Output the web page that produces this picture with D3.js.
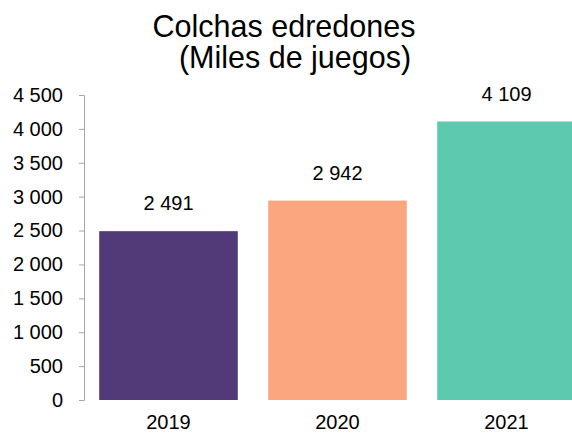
<!DOCTYPE html>
<html><head><meta charset="utf-8">
<script src="https://cdn.jsdelivr.net/npm/d3@7"></script>
<style>body{margin:0;background:#fff}svg{display:block}text{font-family:"Liberation Sans",Arial,sans-serif;fill:#000}</style>
</head><body><svg id="c" width="572" height="434"></svg>
<script>
const categories = ["2019", "2020", "2021"];
const values = [2491, 2942, 4109];
const colors = ["#513A77", "#FBA67E", "#5DC9AF"];
const tickValues = [0, 500, 1000, 1500, 2000, 2500, 3000, 3500, 4000, 4500];
const titleLines = ["Colchas edredones", "(Miles de juegos)"];

const fmt = v => d3.format(",")(v).replace(/,/g, " ");
const svg = d3.select("#c");
const x = d3.scaleBand().domain(categories).range([84, 591]).paddingInner(0.18).paddingOuter(0.09);
const y = d3.scaleLinear().domain([0, 4500]).range([400, 95]);

svg.append("text").attr("x", 284).attr("y", 37).attr("text-anchor", "middle").attr("font-size", 30.5).text(titleLines[0]);
svg.append("text").attr("x", 295).attr("y", 68).attr("text-anchor", "middle").attr("font-size", 30.5).text(titleLines[1]);

const ya = svg.append("g").attr("transform", "translate(84,0)")
  .call(d3.axisLeft(y).tickValues(tickValues).tickFormat(fmt).tickSize(5).tickPadding(16));
ya.selectAll("path,line").attr("stroke", "#a6a6a6");
ya.selectAll("text").attr("font-size", 20).attr("font-family", "Liberation Sans, Arial, sans-serif");

svg.selectAll("rect.bar").data(values).enter().append("rect")
  .attr("x", (d, i) => x(categories[i])).attr("width", x.bandwidth())
  .attr("y", d => y(d)).attr("height", d => y(0) - y(d))
  .attr("fill", (d, i) => colors[i]);

svg.selectAll("text.val").data(values).enter().append("text")
  .attr("x", (d, i) => x(categories[i]) + x.bandwidth() / 2)
  .attr("y", d => y(d) - 21).attr("text-anchor", "middle").attr("font-size", 20).text(fmt);

svg.selectAll("text.cat").data(categories).enter().append("text")
  .attr("x", d => x(d) + x.bandwidth() / 2).attr("y", 429)
  .attr("text-anchor", "middle").attr("font-size", 20).text(d => d);
</script></body></html>
